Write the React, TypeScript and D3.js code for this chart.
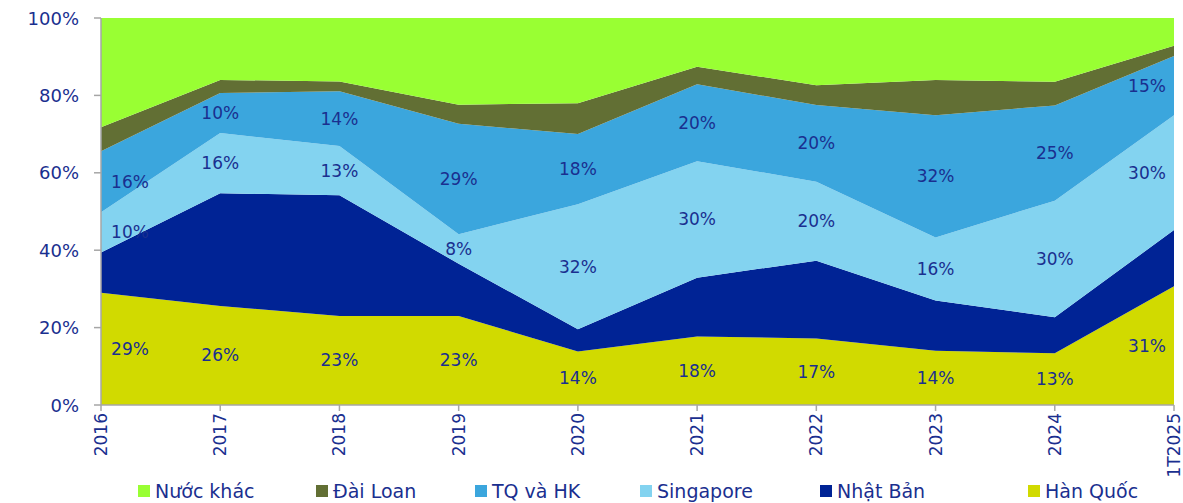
import React from 'react';
import * as d3 from 'd3';

// categories and series (share %)
const years = ['2016', '2017', '2018', '2019', '2020', '2021', '2022', '2023', '2024', '1T2025'];
const hanQuoc = [29, 25.6, 23, 23, 13.8, 17.7, 17.2, 14, 13.4, 30.7];
const nhatBan = [10.4, 29.1, 31.2, 13.5, 5.8, 15.2, 20.1, 13, 9.3, 14.5];
const singapore = [10.4, 15.6, 12.7, 7.6, 32.3, 30.1, 20.4, 16.3, 30.1, 29.7];
const tqHk = [15.8, 10.3, 14.2, 28.6, 18.1, 19.9, 19.8, 31.6, 24.6, 15.3];
const daiLoan = [6.2, 3.4, 2.5, 4.9, 8, 4.5, 5.1, 9.1, 6.1, 2.6];
const nuocKhac = [28.2, 16, 16.4, 22.4, 22, 12.6, 17.4, 16, 16.5, 7.2];
const yTicks = [0, 20, 40, 60, 80, 100];

const series = [
    { key: 'hanQuoc', name: 'Hàn Quốc', values: hanQuoc, color: '#d1da00', label: true },
    { key: 'nhatBan', name: 'Nhật Bản', values: nhatBan, color: '#002395', label: false },
    { key: 'singapore', name: 'Singapore', values: singapore, color: '#83d3f0', label: true },
    { key: 'tqHk', name: 'TQ và HK', values: tqHk, color: '#3ba6dd', label: true },
    { key: 'daiLoan', name: 'Đài Loan', values: daiLoan, color: '#626f34', label: false },
    { key: 'nuocKhac', name: 'Nước khác', values: nuocKhac, color: '#99ff33', label: false },
];

// legend order (left to right) and x positions
const legendOrder = ['nuocKhac', 'daiLoan', 'tqHk', 'singapore', 'nhatBan', 'hanQuoc'];
const legendX = [138, 316, 475, 640, 820, 1028];

const W = 1183;
const H = 503;
const margin = { top: 18, right: 9, bottom: 98, left: 101 };
const textColor = '#1a2f8f';
const axisColor = '#a6a6a6';
const font = '"DejaVu Sans", sans-serif';

const App = () => {
    const table = years.map((y, i) => {
        const row: any = { year: y };
        series.forEach((s) => (row[s.key] = s.values[i]));
        return row;
    });

    const stacked = d3.stack().keys(series.map((s) => s.key))(table);

    const x = d3.scalePoint().domain(years).range([margin.left, W - margin.right]);
    const y = d3.scaleLinear().domain([0, 100]).range([H - margin.bottom, margin.top]);

    const area = d3
        .area<any>()
        .x((d) => x(d.data.year))
        .y0((d) => y(d[0]))
        .y1((d) => y(d[1]));

    const fmt = d3.format('.0f');
    const bottom = H - margin.bottom;

    return (
        <svg width={W} height={H} style={{ position: 'absolute', left: 0, top: 0 }} fontFamily={font}>
            {stacked.map((layer, i) => (
                <path key={layer.key} d={area(layer) || ''} fill={series[i].color} />
            ))}

            {/* data labels */}
            {stacked.map((layer, i) =>
                series[i].label
                    ? layer.map((d, j) => {
                          let lx = x(years[j]);
                          if (j === 0) lx += 29;
                          if (j === years.length - 1) lx -= 27;
                          return (
                              <text
                                  key={layer.key + j}
                                  x={lx}
                                  y={y((d[0] + d[1]) / 2)}
                                  textAnchor="middle"
                                  dominantBaseline="central"
                                  fontSize={17}
                                  fill={textColor}
                              >
                                  {fmt(series[i].values[j])}%
                              </text>
                          );
                      })
                    : null
            )}

            {/* y axis */}
            <line x1={margin.left} x2={margin.left} y1={margin.top} y2={bottom} stroke={axisColor} strokeWidth={1.5} />
            {yTicks.map((t) => (
                <g key={t}>
                    <line x1={margin.left - 7} x2={margin.left} y1={y(t)} y2={y(t)} stroke={axisColor} strokeWidth={1.5} />
                    <text x={79} y={y(t)} textAnchor="end" dominantBaseline="central" fontSize={18} fill={textColor}>
                        {t}%
                    </text>
                </g>
            ))}

            {/* x axis */}
            <line x1={margin.left} x2={W - margin.right} y1={bottom} y2={bottom} stroke={axisColor} strokeWidth={1.5} />
            {years.map((yr) => (
                <g key={yr}>
                    <line x1={x(yr)} x2={x(yr)} y1={bottom} y2={bottom + 6} stroke={axisColor} strokeWidth={1.5} />
                    <text
                        transform={`translate(${x(yr)},${bottom + 8}) rotate(-90)`}
                        textAnchor="end"
                        dominantBaseline="central"
                        fontSize={17}
                        fill={textColor}
                    >
                        {yr}
                    </text>
                </g>
            ))}

            {/* legend */}
            {legendOrder.map((k, i) => {
                const s = series.find((d) => d.key === k)!;
                return (
                    <g key={k} transform={`translate(${legendX[i]},491)`}>
                        <rect x={0} y={-6} width={12} height={12} fill={s.color} />
                        <text x={17} y={0} dominantBaseline="central" fontSize={19} fill={textColor}>
                            {s.name}
                        </text>
                    </g>
                );
            })}
        </svg>
    );
};

export default App;
